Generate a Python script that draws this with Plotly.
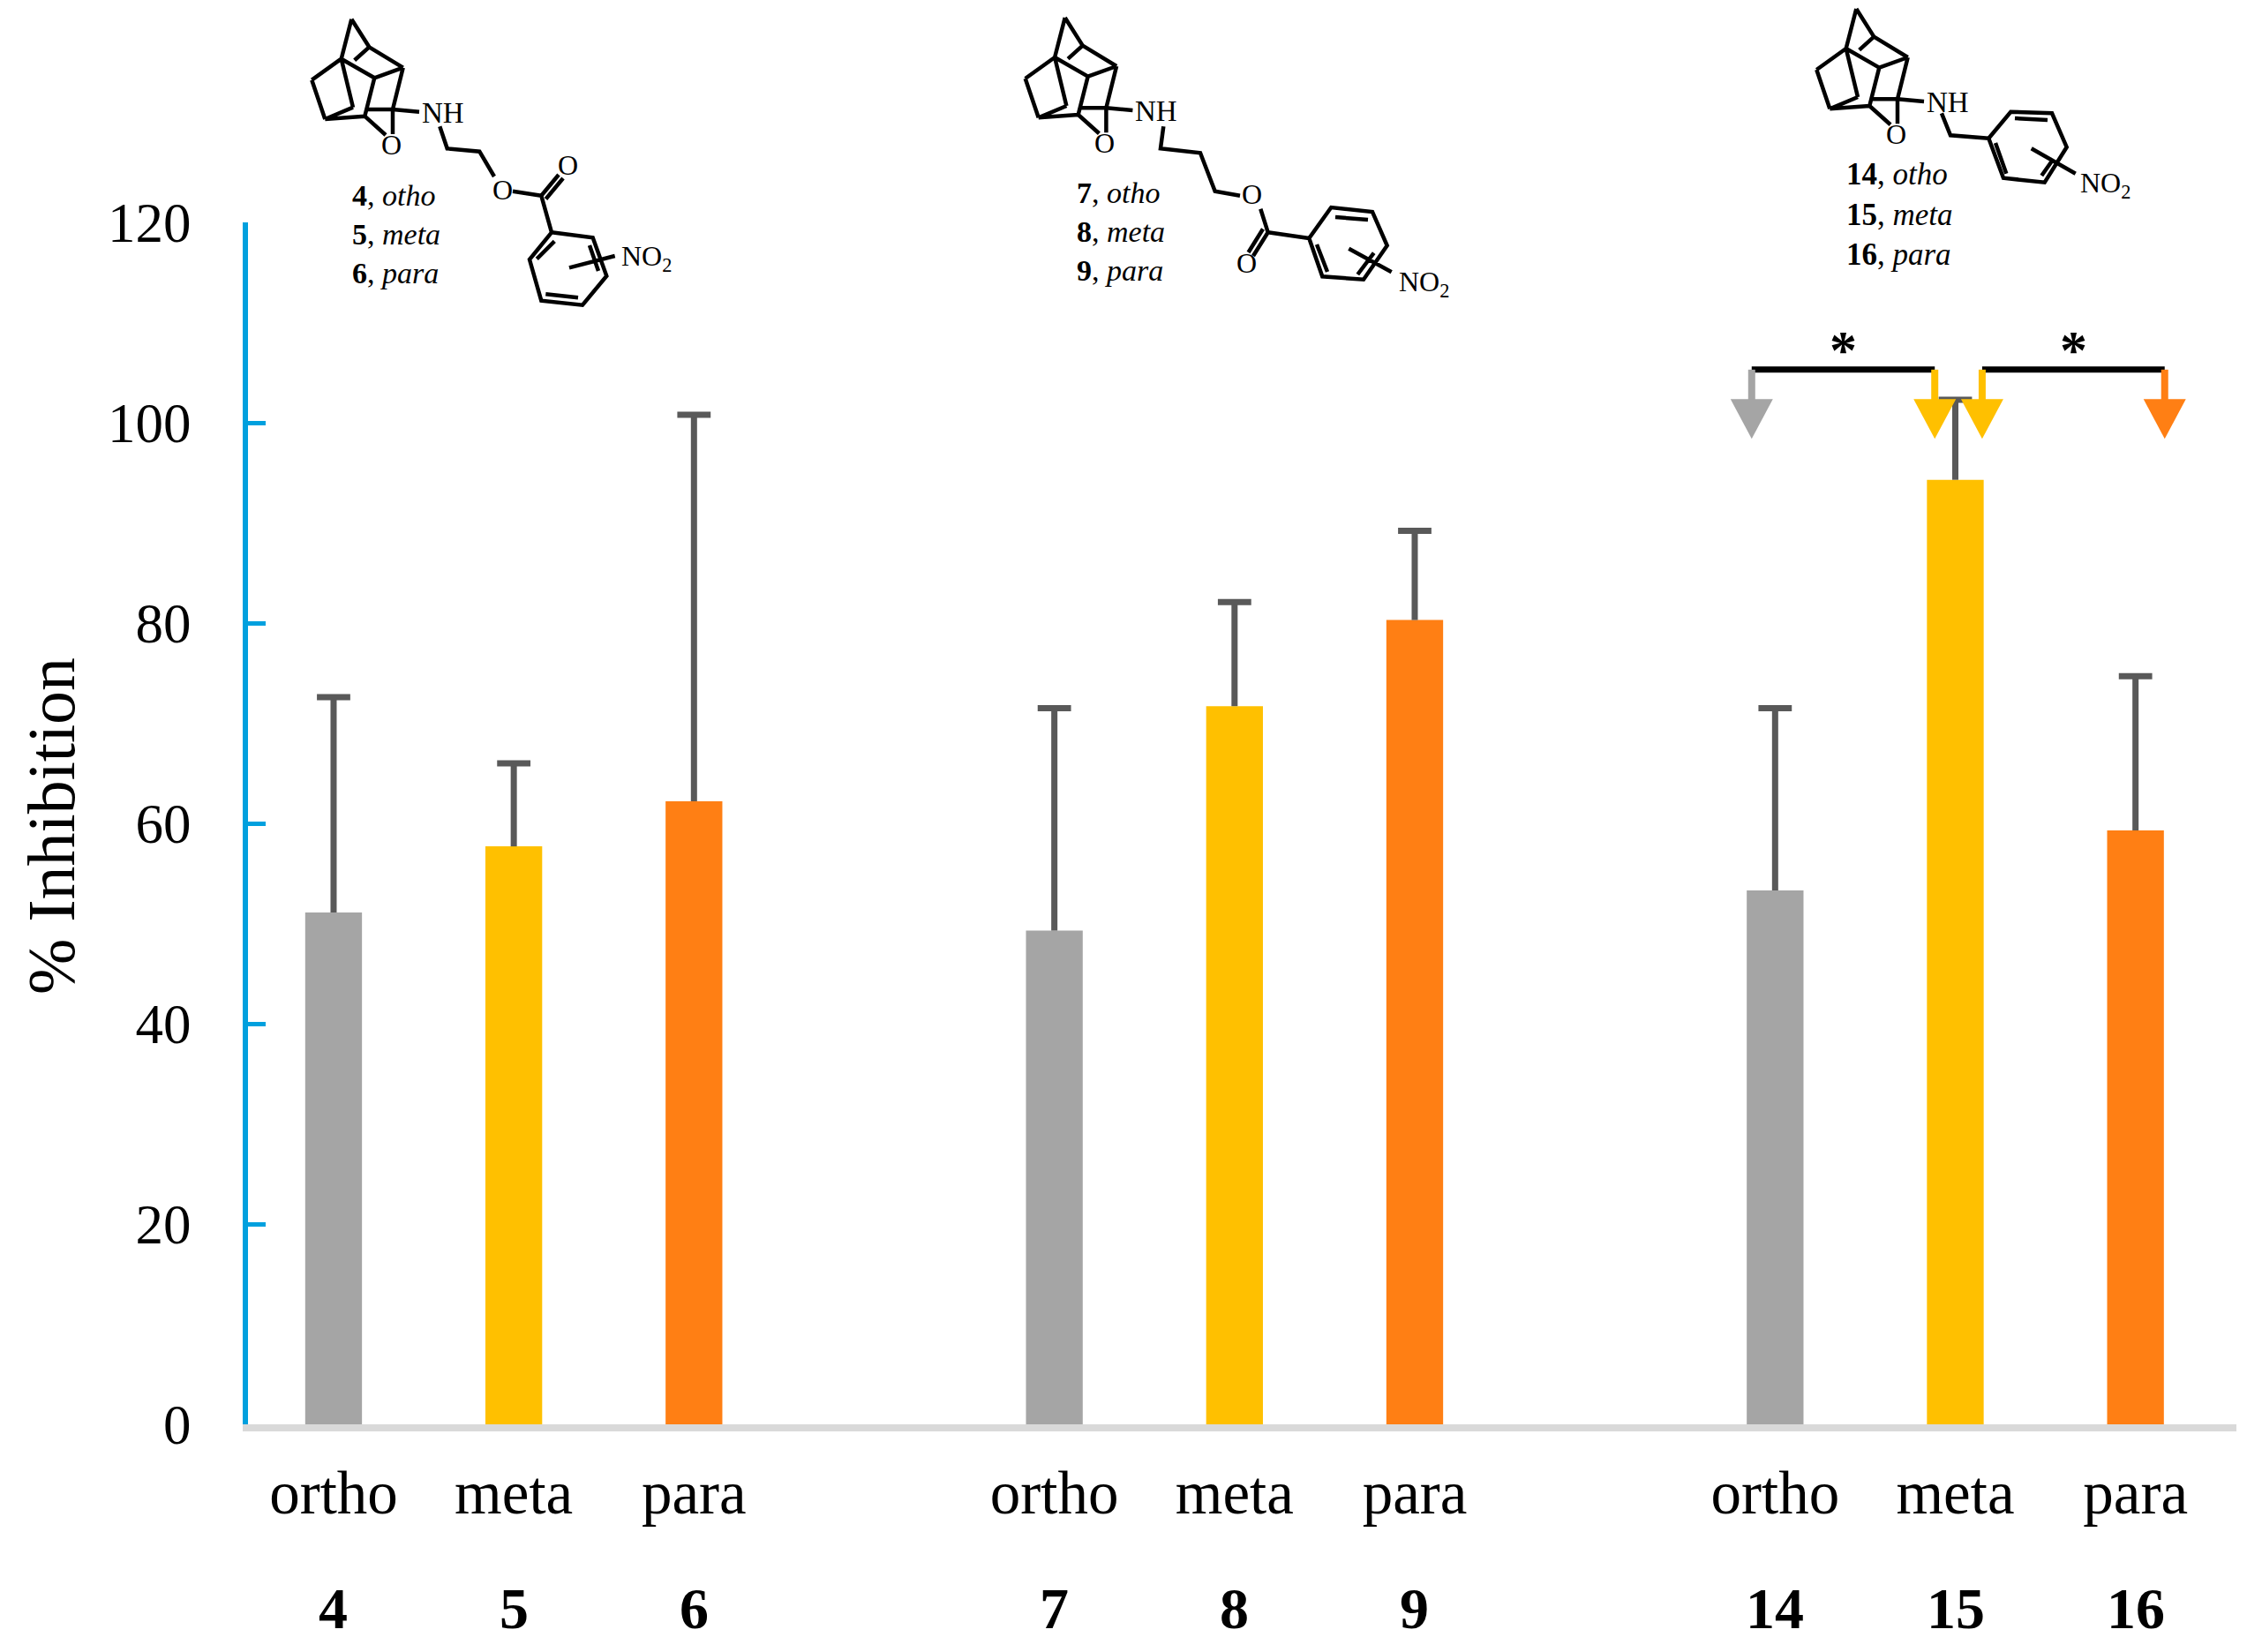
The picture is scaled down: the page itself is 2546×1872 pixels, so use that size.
import plotly.graph_objects as go

# ---------------- data ----------------
compounds = ["4", "5", "6", "7", "8", "9", "14", "15", "16"]
isomers = ["ortho", "meta", "para", "ortho", "meta", "para", "ortho", "meta", "para"]
positions = [0, 1, 2, 4, 5, 6, 8, 9, 10]
inhibition = [51.1, 57.7, 62.2, 49.3, 71.7, 80.3, 53.3, 94.3, 59.3]
sd = [21.5, 8.3, 38.6, 22.2, 10.4, 8.9, 18.2, 8.0, 15.4]
y_ticks = [0, 20, 40, 60, 80, 100, 120]

# significance markers (x in category units, colours by isomer)
sig_arrow_x = [7.87, 8.886, 9.149, 10.162]
sig_arrow_isomer = ["ortho", "meta", "meta", "para"]
sig_pairs = [(0, 1), (2, 3)]
sig_labels = ["*", "*"]
sig_bracket_y = 105.3
sig_tip_y = 98.4
sig_star_y = 108.0

colors = {"ortho": "#A5A5A5", "meta": "#FFC000", "para": "#FF7F14"}
bar_colors = [colors[i] for i in isomers]

# screen geometry (reference pixels); page body adds an 8px offset
OFF = 8
W, H = 2546 - 2 * OFF, 1872 - 2 * OFF
PL, PT, PRX, PBY = 281, 252, 2534, 1614   # plot area in screen px
PW = PRX - PL
PH = PBY - PT
L = PL - OFF
T = PT - OFF
R = W - L - PW
B = H - T - PH
SERIF = "Liberation Serif, Times New Roman, serif"


def px(x):
    return (x - PL) / PW


def py(y):
    return (PBY - y) / PH


fig = go.Figure()
fig.add_trace(go.Bar(
    x=positions, y=inhibition, width=0.315,
    marker=dict(color=bar_colors, line=dict(width=0)),
    error_y=dict(type="data", array=sd, arrayminus=[0] * len(sd), symmetric=False,
                 color="#595959", thickness=7, width=0),
    cliponaxis=False, showlegend=False, hoverinfo="skip",
))
# error-bar caps (top only)
fig.add_trace(go.Scatter(
    x=positions, y=[v + e for v, e in zip(inhibition, sd)], mode="markers",
    marker=dict(symbol="line-ew", size=27, line=dict(color="#595959", width=7)),
    cliponaxis=False, showlegend=False, hoverinfo="skip",
))

shapes = []
annotations = []

# significance brackets and arrows
for (a, b), lab in zip(sig_pairs, sig_labels):
    xa, xb = sig_arrow_x[a], sig_arrow_x[b]
    shapes.append(dict(type="line", xref="x", yref="y", x0=xa, x1=xb,
                       y0=sig_bracket_y, y1=sig_bracket_y,
                       line=dict(color="black", width=7), layer="above"))
    annotations.append(dict(x=(xa + xb) / 2, y=sig_star_y, xref="x", yref="y",
                            xanchor="center", yanchor="middle",
                            text="<b>" + lab + "</b>", showarrow=False,
                            font=dict(family=SERIF, size=62, color="black"),
                            yshift=-8))
for xa, iso in zip(sig_arrow_x, sig_arrow_isomer):
    c = colors[iso]
    shapes.append(dict(type="path", xref="x", yref="y", xsizemode="pixel", ysizemode="pixel",
                       xanchor=xa, yanchor=sig_bracket_y,
                       path="M -4,0 L 4,0 L 4,-36 L -4,-36 Z",
                       fillcolor=c, line=dict(width=0), layer="above"))
    shapes.append(dict(type="path", xref="x", yref="y", xsizemode="pixel", ysizemode="pixel",
                       xanchor=xa, yanchor=sig_tip_y,
                       path="M -24,45 L 24,45 L 0,0 Z",
                       fillcolor=c, line=dict(width=0), layer="above"))

# ---------------- chemical structure sketches (decoration) ----------------
cage = {
    "A": (398.3, 21.7), "B": (418.3, 53.3), "C": (456.7, 76.7), "D": (386.7, 66.7),
    "E": (353.3, 90.7), "F": (368.3, 135.0), "G": (413.3, 131.7), "H": (424.3, 88.3),
    "I": (445.0, 124.0), "J": (400.0, 121.7), "K": (401.7, 68.3), "G2": (415.0, 124.0),
    "Oa": (437.0, 153.0), "Ob": (445.0, 152.0), "N": (475.0, 126.7),
}
cage_edges = [("A", "D"), ("A", "B"), ("B", "C"), ("K", "B"), ("D", "H"), ("H", "C"),
              ("C", "I"), ("H", "G"), ("D", "E"), ("E", "F"), ("F", "G"), ("D", "J"),
              ("J", "F"), ("G2", "I"), ("G", "Oa"), ("I", "Ob"), ("I", "N")]


def seg_path(segs):
    parts = []
    for seg in segs:
        parts.append("M %.5f,%.5f" % (px(seg[0][0]), py(seg[0][1])))
        for p in seg[1:]:
            parts.append("L %.5f,%.5f" % (px(p[0]), py(p[1])))
    return " ".join(parts)


def txt(x, y, t, size, xanchor="center"):
    annotations.append(dict(x=px(x), y=py(y), xref="paper", yref="paper", text=t,
                            showarrow=False, xanchor=xanchor, yanchor="middle",
                            align="left",
                            font=dict(family=SERIF, size=size, color="black")))


def add_struct(dx, dy, extra, texts, label_xy, label_text, label_size):
    segs = []
    for a, b in cage_edges:
        pa, pb = cage[a], cage[b]
        segs.append([(pa[0] + dx, pa[1] + dy), (pb[0] + dx, pb[1] + dy)])
    segs += extra
    shapes.append(dict(type="path", xref="paper", yref="paper", path=seg_path(segs),
                       line=dict(color="black", width=4.5), layer="above"))
    txt(cage["Ob"][0] + dx - 2, cage["Ob"][1] + dy + 12, "O", 32)
    txt(cage["N"][0] + dx + 1, cage["N"][1] + dy + 1, "NH", 33, xanchor="left")
    for (tx, ty), t in texts:
        txt(tx, ty, t, 32)
    txt(label_xy[0], label_xy[1], label_text, label_size, xanchor="left")


# structure 1 (4-6)
ring1 = [(625, 263.3), (671.7, 269.3), (687.3, 312.7), (660, 345.7), (613.3, 340.7), (600, 294), (625, 263.3)]
extra1 = [
    [(498.3, 143.3), (506.7, 168.3), (543.3, 171.7), (560, 200)],
    [(581, 216.7), (613.3, 221.7)],
    [(613.3, 221.7), (633, 198)], [(618.5, 225.5), (638, 202)],
    [(613.3, 221.7), (625, 263.3)],
    ring1,
    [(608.3, 293.3), (628.3, 273.3)], [(618.3, 333.3), (655, 337.3)], [(668, 278), (678, 307)],
    [(645, 303.3), (696.7, 290)],
]
texts1 = [((569, 215), "O"), ((643, 187), "O"), ((732, 292), "NO<sub>2</sub>")]
add_struct(0, 0, extra1, texts1, (396.7, 266),
           "<b>4</b>, <i>otho</i><br><b>5</b>, <i>meta</i><br><b>6</b>, <i>para</i>", 34)

# structure 2 (7-9)
ring2 = [(1483.3, 270), (1508.3, 235), (1555, 240), (1571.7, 278.3), (1545, 316.7), (1498.3, 313.3), (1483.3, 270)]
extra2 = [
    [(1318.3, 143.3), (1315, 168.3), (1360, 173.3), (1376.7, 216.7), (1405, 221.7)],
    [(1428.3, 236.7), (1436.7, 263.3)],
    [(1436.7, 263.3), (1420, 290)], [(1431, 259.5), (1414.5, 286)],
    [(1436.7, 263.3), (1483.3, 270)],
    ring2,
    [(1513, 246), (1550, 249)], [(1492, 277), (1504, 308)], [(1538.3, 311), (1556.7, 286.7)],
    [(1528.3, 281.7), (1576.7, 308.3)],
]
texts2 = [((1419, 220), "O"), ((1412, 298), "O"), ((1614, 322), "NO<sub>2</sub>")]
add_struct(808.4, -1.7, extra2, texts2, (1218.3, 263),
           "<b>7</b>, <i>otho</i><br><b>8</b>, <i>meta</i><br><b>9</b>, <i>para</i>", 34)

# structure 3 (14-16)
ring3 = [(2253.3, 156.7), (2278.3, 126.7), (2325, 128.3), (2341.7, 166.7), (2316.7, 206.7), (2270, 201.7), (2253.3, 156.7)]
extra3 = [
    [(2200, 128.3), (2210, 153.3), (2253.3, 156.7)],
    ring3,
    [(2283, 134), (2320, 136)], [(2261, 162), (2273.3, 196.7)], [(2313.3, 199), (2326.7, 180)],
    [(2301.7, 168.3), (2351.7, 196.7)],
]
texts3 = [((2385, 209), "NO<sub>2</sub>")]
add_struct(1705, -11.7, extra3, texts3, (2090, 243),
           "<b>14</b>, <i>otho</i><br><b>15</b>, <i>meta</i><br><b>16</b>, <i>para</i>", 35)

# compound numbers row
for xpos, comp in zip(positions, compounds):
    annotations.append(dict(x=xpos, y=py(1822), xref="x", yref="paper",
                            xanchor="center", yanchor="middle",
                            text="<b>" + comp + "</b>", showarrow=False,
                            font=dict(family=SERIF, size=66, color="black")))

# y-axis title
annotations.append(dict(x=px(58), y=py(936), xref="paper", yref="paper",
                        xanchor="center", yanchor="middle",
                        text="% Inhibition", textangle=-90, showarrow=False,
                        font=dict(family=SERIF, size=76, color="black")))

fig.update_layout(
    width=W, height=H,
    margin=dict(l=L, r=R, t=T, b=B, autoexpand=False),
    paper_bgcolor="white", plot_bgcolor="white",
    shapes=shapes, annotations=annotations,
    showlegend=False,
    xaxis=dict(range=[-0.475, 10.56], tickvals=positions, ticktext=isomers,
               showgrid=False, zeroline=False, showline=True, linecolor="#D9D9D9",
               linewidth=8, ticks="", ticklabelstandoff=10,
               tickfont=dict(family=SERIF, size=69, color="black")),
    yaxis=dict(range=[0, 120], tickvals=y_ticks, showgrid=False, zeroline=False,
               showline=True, linecolor="#00A0DE", linewidth=6,
               ticks="inside", ticklen=20, tickwidth=5, tickcolor="#00A0DE",
               ticklabelstandoff=46,
               tickfont=dict(family=SERIF, size=63, color="black")),
)

fig.write_html("out.html")
